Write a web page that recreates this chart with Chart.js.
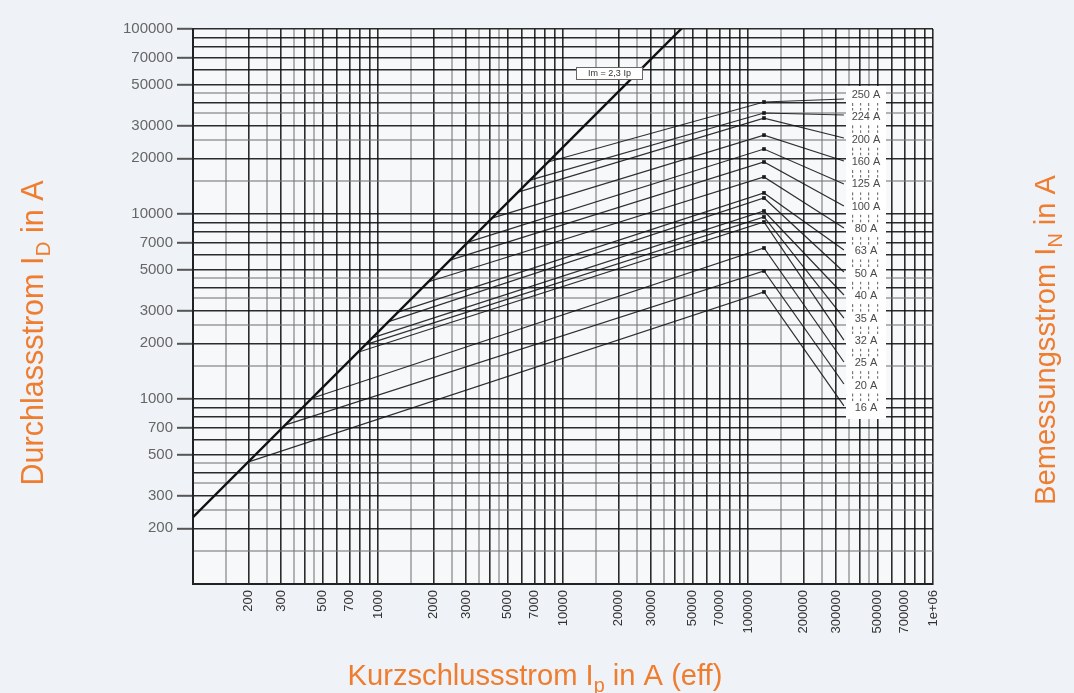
<!DOCTYPE html>
<html><head><meta charset="utf-8">
<script src="https://cdn.jsdelivr.net/npm/chart.js@4/dist/chart.umd.min.js"></script>
<style>html,body{margin:0;padding:0;background:#eff2f6;}#wrap{width:1074px;height:693px;position:relative;}</style>
</head><body><div id="wrap"><canvas id="c" width="1074" height="693"></canvas></div>
<script>
// ---- data ----
const ratingLabels = ['250 A','224 A','200 A','160 A','125 A','100 A','80 A','63 A','50 A','40 A','35 A','32 A','25 A','20 A','16 A'];
const startIp = [8300, 6630, 5710, 4130, 3070, 2450, 1860, 1280, 1130, 930, 850, 780, 440, 314, 198];
const startId = [19100, 15250, 13130, 9500, 7050, 5630, 4290, 2950, 2610, 2140, 1960, 1790, 1010, 722, 456];
const peakIp = 122000;
const peakId = [40300, 35150, 33000, 26700, 22450, 19100, 15850, 13000, 12200, 10380, 9640, 9050, 6550, 4920, 3790];
const labelIp = 330000;
const endId = [41840, 34280, 25750, 19330, 14530, 11050, 8400, 6390, 4860, 3650, 2740, 2080, 1585, 1205, 917];
const imLineIp = [100, 50000];
const imLineId = [230, 115000];
const xTickLabels = [200,300,500,700,1000,2000,3000,5000,7000,10000,20000,30000,50000,70000,100000,200000,300000,500000,700000,1000000];
const yTickLabels = [200,300,500,700,1000,2000,3000,5000,7000,10000,20000,30000,50000,70000,100000];
const gridMultipliers = [1,1.5,2,2.5,3,3.5,4,4.5,5,6,7,8,9];
const lightMultipliers = [1.5,2.5,3.5,4.5];

function buildGrid(lo, hi){
  const vals=[], light=new Set();
  for(let d=lo; d<hi; d*=10){
    for(const m of gridMultipliers){
      const v=Math.round(m*d); vals.push(v);
      if(lightMultipliers.includes(m)) light.add(v);
    }
  }
  vals.push(hi);
  return {vals, light};
}
const xg = buildGrid(100, 1e6);
const yg = buildGrid(100, 1e5);
const xLab = new Set(xTickLabels), yLab = new Set(yTickLabels);
const fmt = v => v===1000000 ? '1e+06' : String(v);

const FONT = "'Liberation Sans', Arial, sans-serif";
const ORANGE = '#ef7d30';

const fuseSets = ratingLabels.map((lab,i)=>({
  label: lab,
  data: [{x:startIp[i], y:startId[i]}, {x:peakIp, y:peakId[i]}, {x:labelIp, y:endId[i]}],
  showLine:true, borderColor:'rgba(20,20,20,0.88)', borderWidth:1.2, tension:0,
  pointRadius:[0,2.6,0], pointStyle:'rect', pointBackgroundColor:'#1a1a1a', pointBorderColor:'#1a1a1a', pointBorderWidth:0
}));
const imSet = {
  label:'Im = 2,3 Ip',
  data: imLineIp.map((x,i)=>({x, y:imLineId[i]})),
  showLine:true, borderColor:'#111', borderWidth:2.4, pointRadius:0
};

function gridCol(light, v){ return light.has(v) ? 'rgba(120,120,120,0.55)' : 'rgba(15,15,15,0.88)'; }
function gridW(light, v){ return light.has(v) ? 2 : 1.6; }

function drawRich(ctx, parts, cx, cy, angle, targetW){
  let size = 28;
  const measure = s => parts.reduce((w,p)=>{ ctx.font = (p.sub? s*0.68 : s)+'px '+FONT; return w+ctx.measureText(p.t).width; },0);
  size = size * targetW / measure(size);
  const total = measure(size);
  ctx.save();
  ctx.translate(cx, cy); ctx.rotate(angle);
  ctx.fillStyle = ORANGE; ctx.textBaseline='alphabetic'; ctx.textAlign='left';
  let x = -total/2;
  const base = size*0.36;
  for(const p of parts){
    ctx.font = (p.sub? size*0.68 : size)+'px '+FONT;
    ctx.fillText(p.t, x, p.sub ? base + size*0.22 : base);
    x += ctx.measureText(p.t).width;
  }
  ctx.restore();
}

const deco = {
  id:'deco',
  beforeDraw(chart){
    const {ctx, chartArea:a} = chart;
    ctx.save();
    ctx.fillStyle='#eff2f6'; ctx.fillRect(0,0,chart.width,chart.height);
    ctx.fillStyle='#f6f8fa'; ctx.fillRect(a.left,a.top,a.right-a.left,a.bottom-a.top);
    ctx.restore();
  },
  afterDatasetsDraw(chart){
    const {ctx} = chart;
    ctx.save();
    // white strip holding the rating labels
    ctx.fillStyle='#ffffff'; ctx.fillRect(846,86,40,333);
    ctx.font = '11px '+FONT; ctx.fillStyle='#4a4a4a'; ctx.textAlign='center'; ctx.textBaseline='middle';
    ratingLabels.forEach((lab,i)=>{
      const y = 95 + i*22.35;
      ctx.fillText(lab, 866, y);
      if(i < ratingLabels.length-1){
        ctx.fillStyle='#777';
        [852,860,868,877].forEach((dx,k)=>{ ctx.fillRect(dx, y+8, 1.2, k%2? 2.5:3); ctx.fillRect(dx, y+13, 1.2, 2.5); });
        ctx.fillStyle='#4a4a4a';
      }
    });
    // Im label box
    ctx.fillStyle='#ffffff'; ctx.fillRect(576,67,67,13);
    ctx.strokeStyle='#666'; ctx.lineWidth=1; ctx.strokeRect(576.5,67.5,66,12);
    ctx.fillStyle='#333'; ctx.font='9px '+FONT; ctx.textAlign='center'; ctx.textBaseline='middle';
    ctx.fillText('Im = 2,3 Ip', 609.5, 74);
    ctx.restore();
  },
  afterDraw(chart){
    const {ctx} = chart;
    drawRich(ctx, [{t:'Durchlassstrom I'},{t:'D',sub:true},{t:' in A'}], 32, 333, -Math.PI/2, 305);
    drawRich(ctx, [{t:'Bemessungsstrom I'},{t:'N',sub:true},{t:' in A'}], 1045, 340, -Math.PI/2, 330);
    drawRich(ctx, [{t:'Kurzschlussstrom I'},{t:'p',sub:true},{t:' in A (eff)'}], 535, 675, 0, 375);
  }
};

new Chart(document.getElementById('c'), {
  type:'scatter',
  data:{datasets:[imSet, ...fuseSets]},
  options:{
    responsive:false, animation:false, devicePixelRatio:1,
    layout:{padding:{top:29, right:141, left:0, bottom:0}},
    plugins:{legend:{display:false}, tooltip:{enabled:false}},
    scales:{
      x:{
        type:'logarithmic', min:100, max:1000000, position:'bottom',
        afterBuildTicks: s => { s.ticks = xg.vals.map(v=>({value:v})); },
        afterFit: s => { s.height = 109; },
        ticks:{autoSkip:false, maxRotation:90, minRotation:90, padding:2, color:'#333',
               font:{family:FONT, size:13}, callback: v => xLab.has(v) ? fmt(v) : ''},
        grid:{color: c => gridCol(xg.light, c.tick ? c.tick.value : 0),
              lineWidth: c => gridW(xg.light, c.tick ? c.tick.value : 0),
              tickLength:4, tickColor:'transparent'},
        border:{color:'#222', width:2}
      },
      y:{
        type:'logarithmic', min:100, max:100000, position:'left',
        afterBuildTicks: s => { s.ticks = yg.vals.map(v=>({value:v})); },
        afterFit: s => { s.width = 193; },
        ticks:{autoSkip:false, padding:4, color:'#666',
               font:{family:FONT, size:15}, callback: v => yLab.has(v) ? fmt(v) : ''},
        grid:{color: c => gridCol(yg.light, c.tick ? c.tick.value : 0),
              lineWidth: c => gridW(yg.light, c.tick ? c.tick.value : 0),
              tickLength:16, tickWidth:2,
              tickColor: c => (c.tick && yLab.has(c.tick.value)) ? '#555' : 'transparent'},
        border:{color:'#222', width:2}
      }
    }
  },
  plugins:[deco]
});
</script>
</body></html>
